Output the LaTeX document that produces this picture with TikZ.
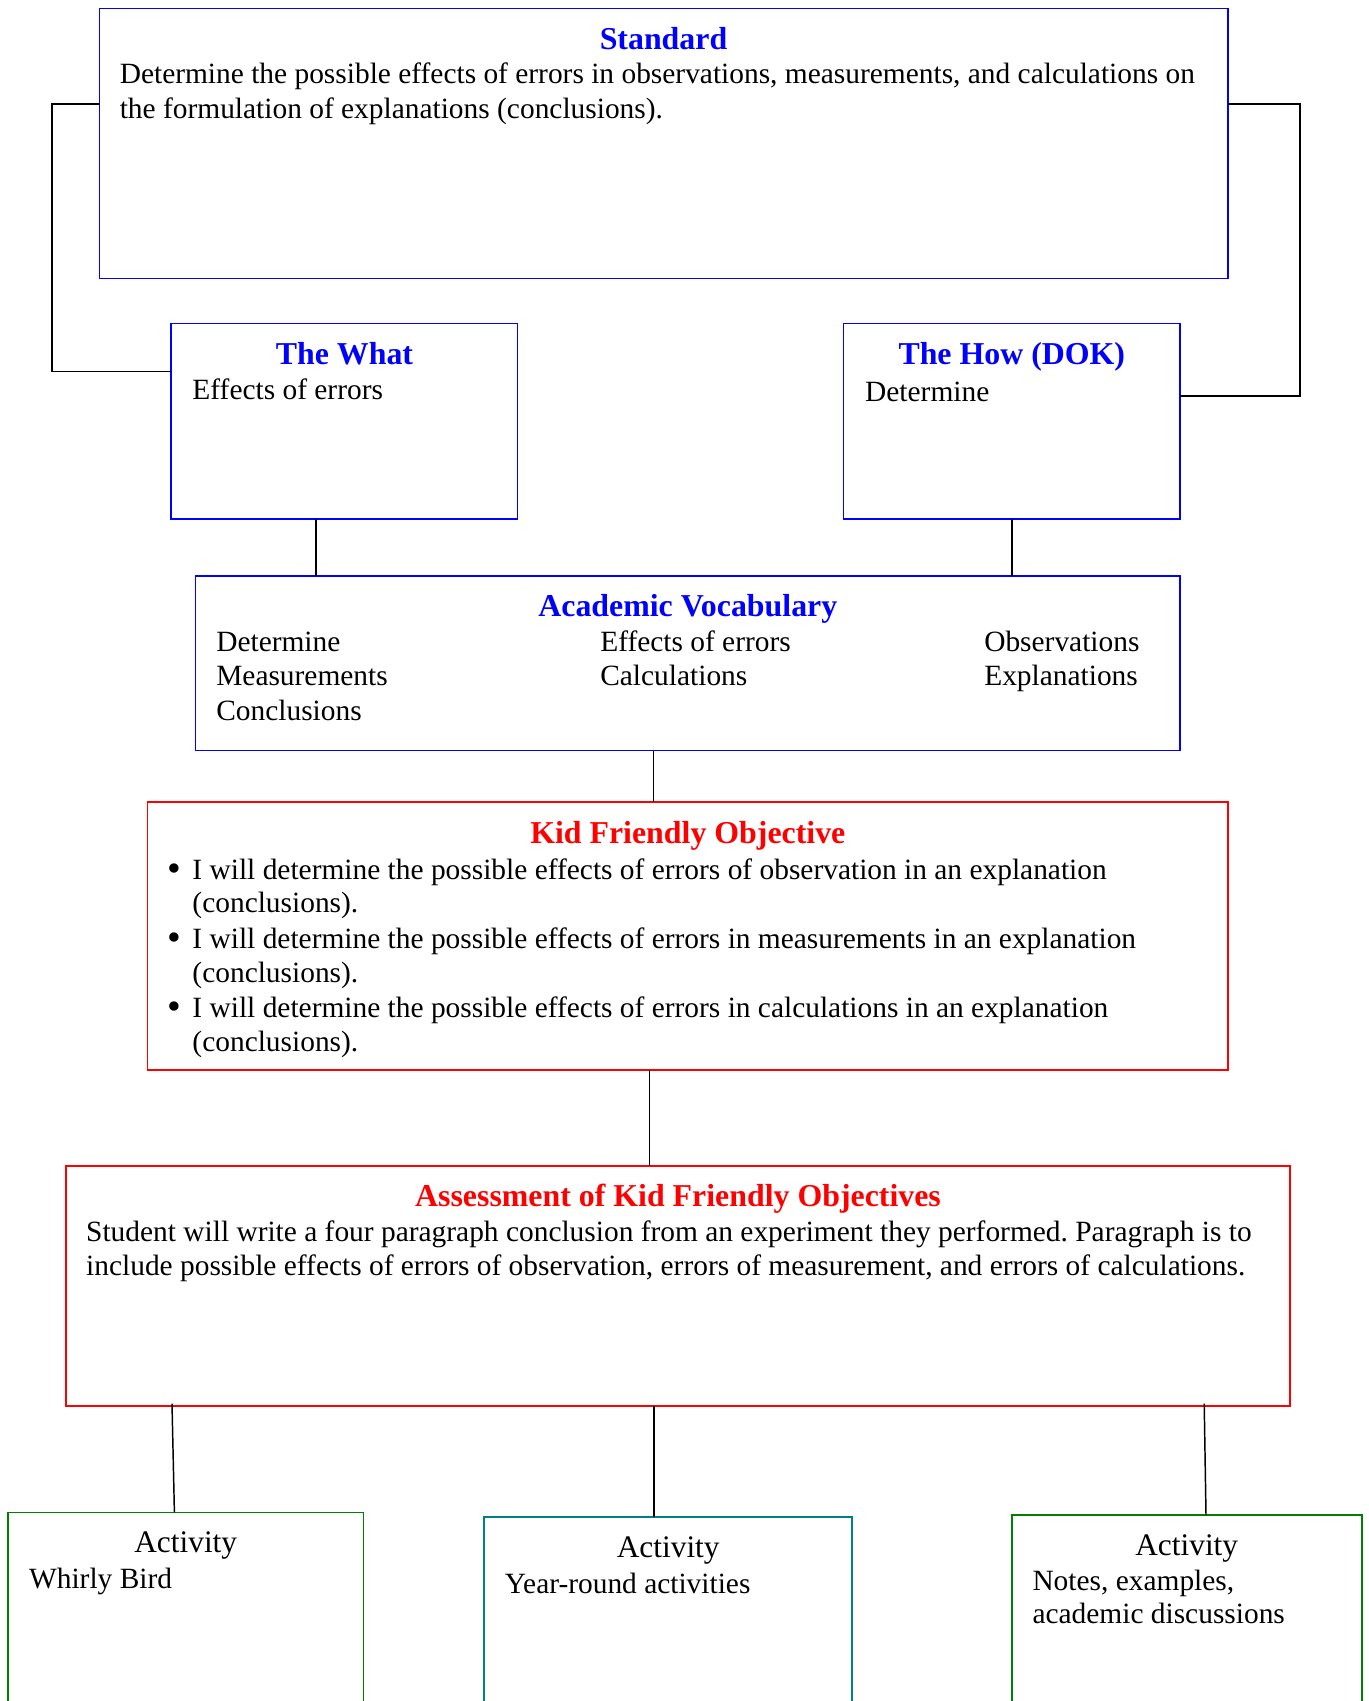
\documentclass[tikz,border=0pt]{standalone}
\usepackage{fontspec}
\setmainfont{Liberation Serif}
\usetikzlibrary{fit}
\frenchspacing

\definecolor{hdblue}{RGB}{0,0,255}
\definecolor{hdred}{RGB}{255,0,0}
\definecolor{actgreen}{RGB}{0,128,0}
\definecolor{actteal}{RGB}{0,128,128}

\tikzset{
  frame/.style={draw, line width=0.75pt, inner sep=0pt, outer sep=0pt},
  link/.style={draw=black, line width=0.6pt},
  body/.style={anchor=base west, inner sep=0pt, font=\fontsize{12}{14}\selectfont},
  head/.style={anchor=base, inner sep=0pt, font=\fontsize{13}{15}\selectfont\bfseries},
  acthead/.style={anchor=base, inner sep=0pt, font=\fontsize{12.8}{15}\selectfont},
  dot/.style={anchor=base, inner sep=0pt, font=\fontsize{16}{18}\selectfont},
}

\begin{document}
\begin{tikzpicture}[x=0.408pt,y=-0.408pt]
\useasboundingbox (0,0) rectangle (1368,1701);
\clip (0,0) rectangle (1368,1701);

% ---------- boxes ----------
\node[frame, draw=hdblue, fit={(99.5,8.5) (1228,278.5)}] (std) {};
\node[frame, draw=hdblue, fit={(171.4,323.5) (517.5,518.6)}] (what) {};
\node[frame, draw=hdblue, fit={(843.5,323.5) (1180,518.6)}] (how) {};
\node[frame, draw=hdblue, fit={(195.5,576) (1180,750.5)}] (vocab) {};
\node[frame, draw=hdred, fit={(147.5,801.7) (1228,1070)}] (kid) {};
\node[frame, draw=hdred, fit={(66.2,1166.3) (1290,1406)}] (assess) {};
\node[frame, draw=actgreen, fit={(7.8,1512.4) (363.5,1760)}] (act1) {};
\node[frame, draw=actteal, fit={(484.3,1516.7) (851.7,1760)}] (act2) {};
\node[frame, draw=actgreen, fit={(1012.2,1515) (1362,1760)}] (act3) {};

% ---------- Standard ----------
\node[head, text=hdblue] (stdT) at (663.5,49.3) {Standard};
\node[body] (stdA) at (119.3,83.5) {Determine the possible effects of errors in observations, measurements, and calculations on};
\node[body] (stdB) at (119.3,118.5) {the formulation of explanations (conclusions).};

% ---------- The What / The How ----------
\node[head, text=hdblue] (whatT) at (344.5,365) {The What};
\node[body] (whatA) at (192,400) {Effects of errors};
\node[head, text=hdblue] (howT) at (1011.8,365) {The How (DOK)};
\node[body] (howA) at (864.7,401.5) {Determine};

% ---------- Academic Vocabulary ----------
\node[head, text=hdblue] (vocT) at (687.8,616.5) {Academic Vocabulary};
\node[body] (v11) at (215.8,651) {Determine};
\node[body] (v12) at (215.8,685.5) {Measurements};
\node[body] (v13) at (215.8,720) {Conclusions};
\node[body] (v21) at (599.8,651) {Effects of errors};
\node[body] (v22) at (599.8,685.5) {Calculations};
\node[body] (v31) at (983.8,651) {Observations};
\node[body] (v32) at (983.8,685.5) {Explanations};

% ---------- Kid Friendly Objective ----------
\node[head, text=hdred] (kidT) at (687.8,843) {Kid Friendly Objective};
\node[dot] (b1) at (174.5,881) {\textbullet};
\node[body] (k1a) at (192,879.5) {I will determine the possible effects of errors of observation in an explanation};
\node[body] (k1b) at (192,912.5) {(conclusions).};
\node[dot] (b2) at (174.5,950) {\textbullet};
\node[body] (k2a) at (192,948.5) {I will determine the possible effects of errors in measurements in an explanation};
\node[body] (k2b) at (192,982.5) {(conclusions).};
\node[dot] (b3) at (174.5,1019) {\textbullet};
\node[body] (k3a) at (192,1017.5) {I will determine the possible effects of errors in calculations in an explanation};
\node[body] (k3b) at (192,1051) {(conclusions).};

% ---------- Assessment ----------
\node[head, text=hdred] (assT) at (678,1206.6) {Assessment of Kid Friendly Objectives};
\node[body] (assA) at (85.7,1241.8) {Student will write a four paragraph conclusion from an experiment they performed. Paragraph is to};
\node[body] (assB) at (85.7,1275.5) {include possible effects of errors of observation, errors of measurement, and errors of calculations.};

% ---------- Activities ----------
\node[acthead] (a1T) at (185.7,1552.7) {Activity};
\node[body] (a1A) at (28.6,1588) {Whirly Bird};
\node[acthead] (a2T) at (668.2,1557.7) {Activity};
\node[body] (a2A) at (504.4,1593) {Year-round activities};
\node[acthead] (a3T) at (1186.7,1555.5) {Activity};
\node[body] (a3A) at (1032,1590) {Notes, examples,};
\node[body] (a3B) at (1032,1623.2) {academic discussions};

% ---------- connectors ----------
\coordinate (yStd) at (0,104);
\coordinate (railL) at (51.8,371.7);
\coordinate (railR) at (1300,396);
\draw[link] (std.west |- yStd) -| (railL) -- (what.west |- railL);
\draw[link] (std.east |- yStd) -| (railR) -- (how.east |- railR);

\coordinate (xWhat) at (316,0);
\draw[link] (what.south -| xWhat) -- (vocab.north -| xWhat);
\draw[link] (how.south) -- (how.south |- vocab.north);

\coordinate (xVoc) at (653.6,0);
\draw[link] (vocab.south -| xVoc) -- (kid.north -| xVoc);

\coordinate (xKid) at (649.6,0);
\draw[link] (kid.south -| xKid) -- (assess.north -| xKid);

\coordinate (dropA) at (172,1403.5);
\coordinate (footA) at (174.4,0);
\draw[link] (dropA) -- (act1.north -| footA);
\coordinate (xMid) at (653.8,0);
\draw[link] (assess.south -| xMid) -- (act2.north -| xMid);
\coordinate (dropC) at (1204.2,1403.5);
\coordinate (footC) at (1206,0);
\draw[link] (dropC) -- (act3.north -| footC);
\end{tikzpicture}
\end{document}
